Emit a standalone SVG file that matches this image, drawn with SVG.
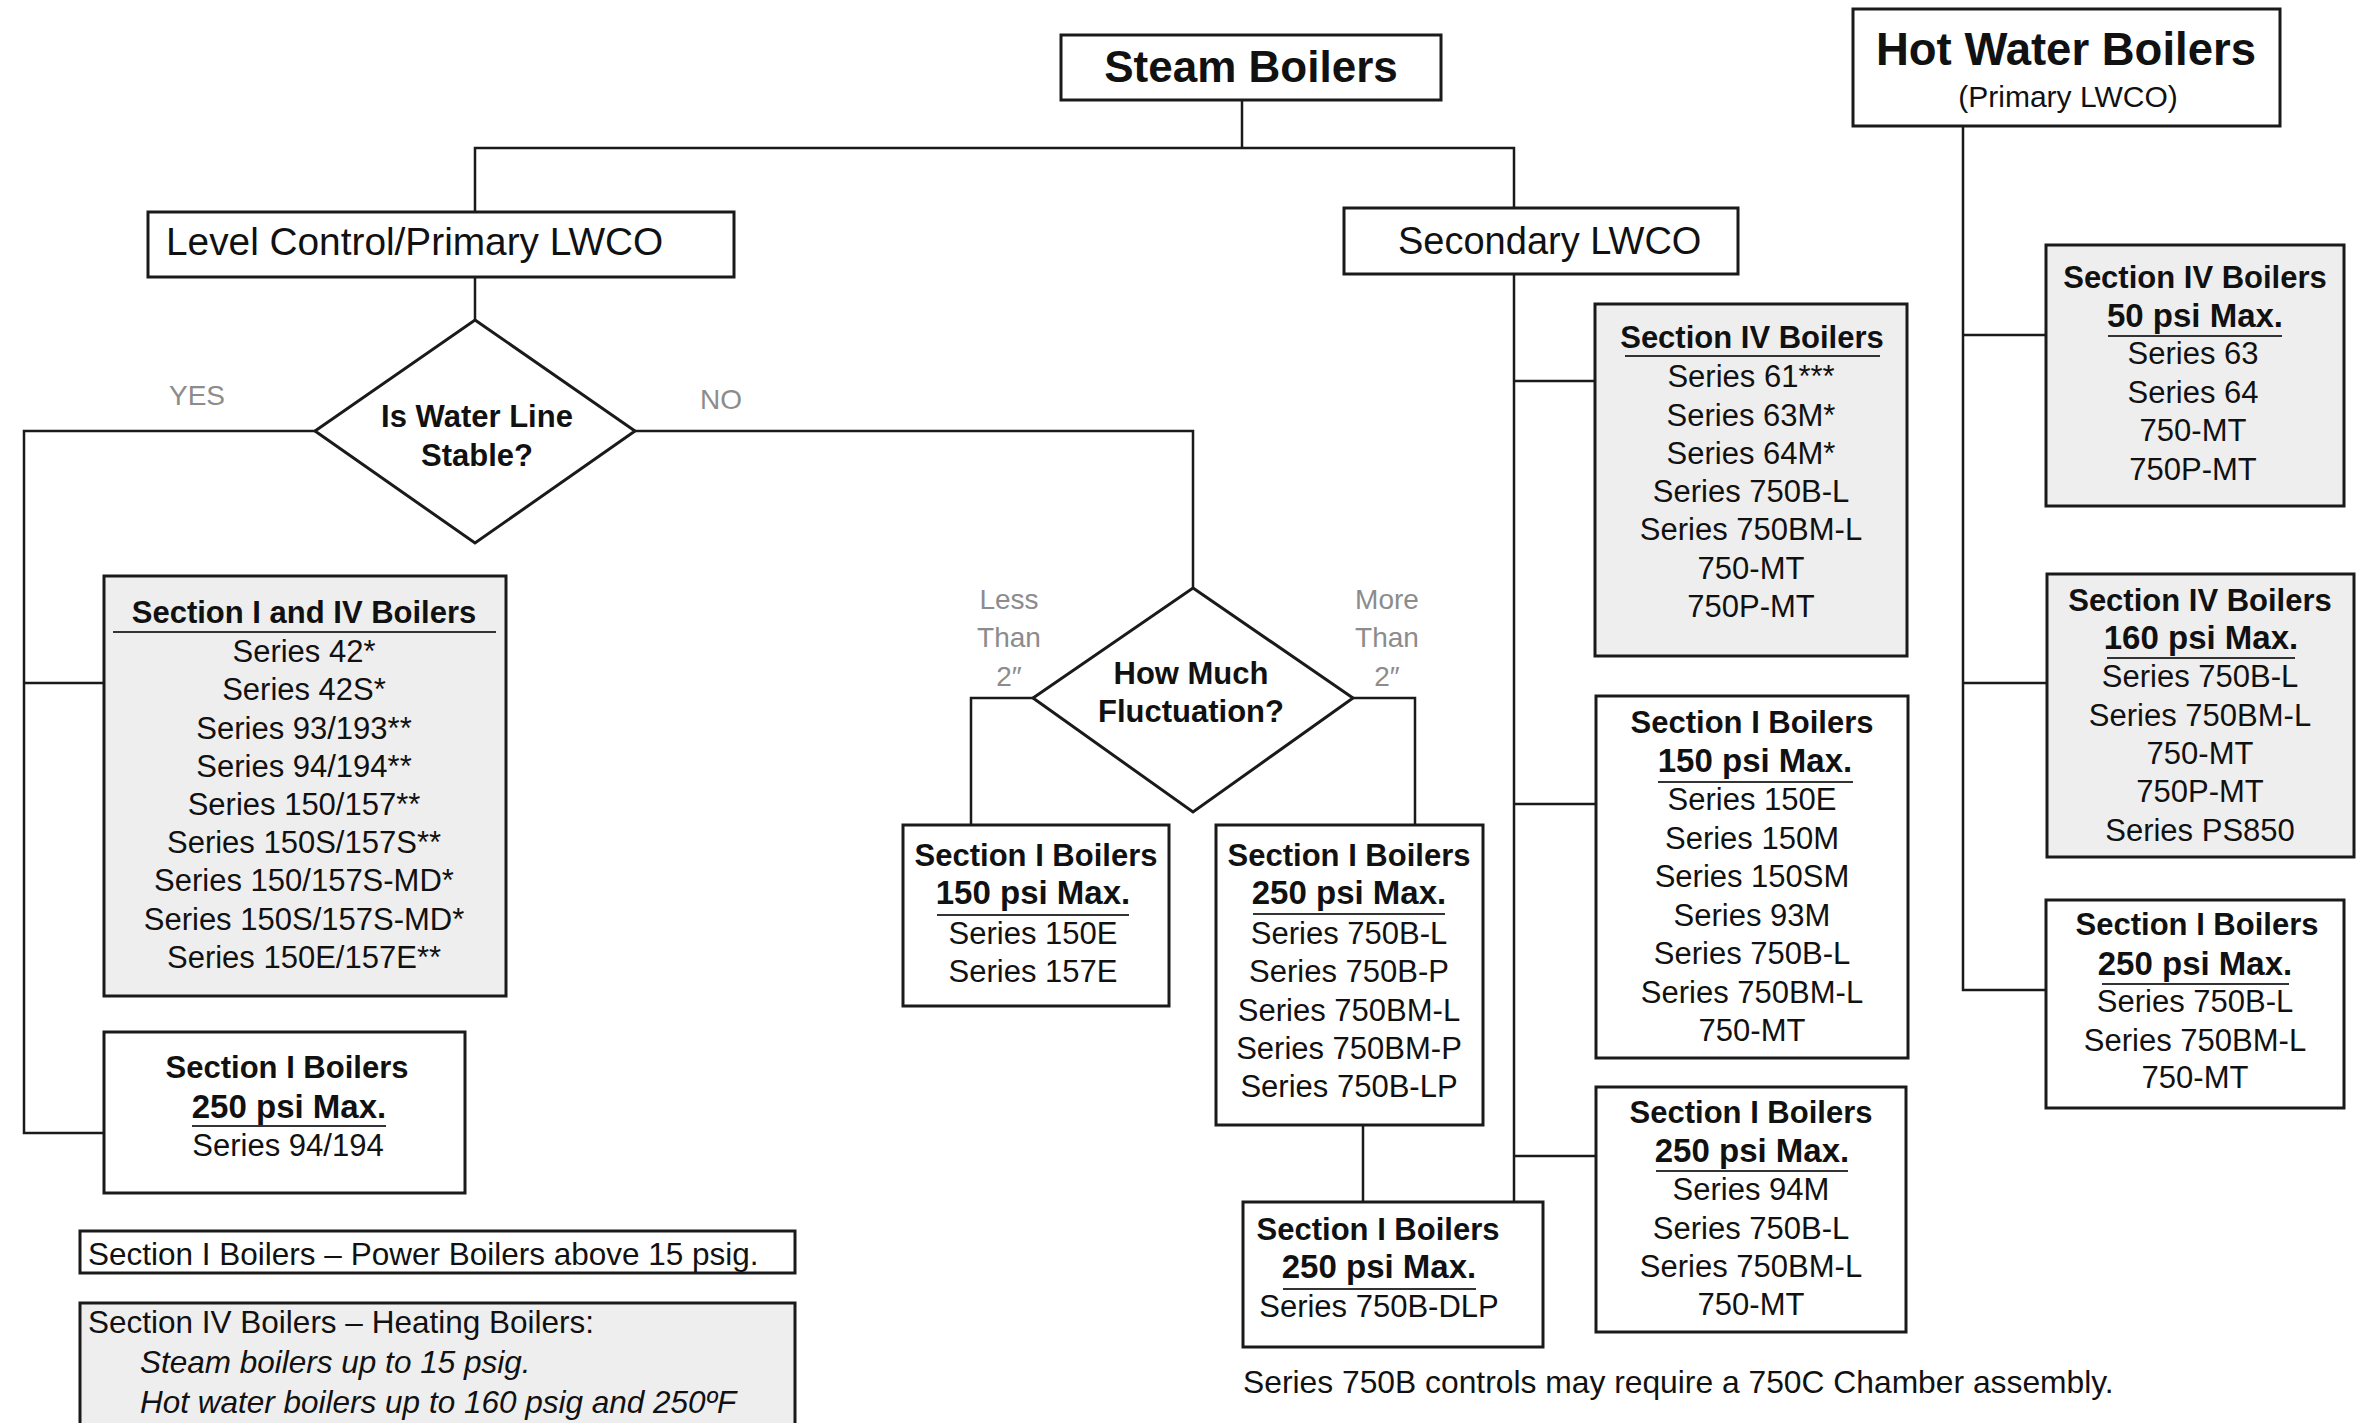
<svg xmlns="http://www.w3.org/2000/svg" width="2374" height="1423" viewBox="0 0 2374 1423">
<style>
.box{fill:#ffffff;stroke:#1a1a1a;stroke-width:3}
.gbox{fill:#eeeeee;stroke:#1a1a1a;stroke-width:3}
.conn{fill:none;stroke:#1a1a1a;stroke-width:2.5}
.ul{stroke:#333333;stroke-width:2}
text{font-family:"Liberation Sans",Arial,sans-serif;fill:#111111}
.t{font-size:31px;text-anchor:middle}
.b{font-weight:bold}
.p{font-size:33px;font-weight:bold;text-anchor:middle}
.lbl{font-size:28px;fill:#8c8c8c;text-anchor:middle}
.big{font-size:44px;font-weight:bold;text-anchor:middle}
.hd{font-size:38px}
.note{font-size:31.5px}
.it{font-style:italic}
</style>
<rect x="0" y="0" width="2374" height="1423" fill="#ffffff"/>
<g id="connectors">
<path class="conn" d="M1242,100 V148"/>
<path class="conn" d="M475,212 V148 H1514 V208"/>
<path class="conn" d="M475,277 V320"/>
<path class="conn" d="M315,431 H24 V1133 H104"/>
<path class="conn" d="M24,683 H104"/>
<path class="conn" d="M635,431 H1193 V588"/>
<path class="conn" d="M1033,698 H971 V825"/>
<path class="conn" d="M1353,698 H1415 V825"/>
<path class="conn" d="M1363,1125 V1202"/>
<path class="conn" d="M1514,274 V1202"/>
<path class="conn" d="M1514,381 H1595"/>
<path class="conn" d="M1514,804 H1596"/>
<path class="conn" d="M1514,1156 H1596"/>
<path class="conn" d="M1963,126 V990 H2046"/>
<path class="conn" d="M1963,335 H2046"/>
<path class="conn" d="M1963,683 H2047"/>
<text class="lbl" x="197" y="405">YES</text>
<text class="lbl" x="721" y="409">NO</text>
<text class="lbl" x="1009" y="609">Less</text>
<text class="lbl" x="1009" y="647">Than</text>
<text class="lbl" x="1009" y="686">2″</text>
<text class="lbl" x="1387" y="609">More</text>
<text class="lbl" x="1387" y="647">Than</text>
<text class="lbl" x="1387" y="686">2″</text>
</g>
<g id="steam">
<rect class="box" x="1061" y="35" width="380" height="65"/>
<text class="big" x="1251" y="82">Steam Boilers</text>
</g>
<g id="hotwater">
<rect class="box" x="1853" y="9" width="427" height="117"/>
<text class="big" x="2066" y="65" style="font-size:45.5px">Hot Water Boilers</text>
<text class="t" x="2068" y="107" style="font-size:30px">(Primary LWCO)</text>
</g>
<g id="levelcontrol">
<rect class="box" x="148" y="212" width="586" height="65"/>
<text class="hd" x="166" y="255" style="font-size:38.8px">Level Control/Primary LWCO</text>
</g>
<g id="secondary">
<rect class="box" x="1344" y="208" width="394" height="66"/>
<text class="hd" x="1398" y="254">Secondary LWCO</text>
</g>
<g id="stable">
<polygon class="box" points="475,320 635,431 475,543 315,431"/>
<text class="t b" x="477" y="427">Is Water Line</text>
<text class="t b" x="477" y="466">Stable?</text>
</g>
<g id="fluct">
<polygon class="box" points="1193,588 1353,698 1193,812 1033,698"/>
<text class="t b" x="1191" y="684">How Much</text>
<text class="t b" x="1191" y="722">Fluctuation?</text>
</g>
<g id="sec1and4">
<rect class="gbox" x="104" y="576" width="402" height="420"/>
<text class="t b" x="304" y="623">Section I and IV Boilers</text>
<line class="ul" x1="113" y1="632" x2="496" y2="632"/>
<text class="t" x="304" y="662">Series 42*</text>
<text class="t" x="304" y="700">Series 42S*</text>
<text class="t" x="304" y="739">Series 93/193**</text>
<text class="t" x="304" y="777">Series 94/194**</text>
<text class="t" x="304" y="815">Series 150/157**</text>
<text class="t" x="304" y="853">Series 150S/157S**</text>
<text class="t" x="304" y="891">Series 150/157S-MD*</text>
<text class="t" x="304" y="930">Series 150S/157S-MD*</text>
<text class="t" x="304" y="968">Series 150E/157E**</text>
</g>
<g id="left250">
<rect class="box" x="104" y="1032" width="361" height="161"/>
<text class="t b" x="287" y="1078">Section I Boilers</text>
<text class="p" x="289" y="1118">250 psi Max.</text>
<line class="ul" x1="192" y1="1126" x2="386" y2="1126"/>
<text class="t" x="288" y="1156">Series 94/194</text>
</g>
<g id="mid150">
<rect class="box" x="903" y="825" width="266" height="181"/>
<text class="t b" x="1036" y="866">Section I Boilers</text>
<text class="p" x="1033" y="904">150 psi Max.</text>
<line class="ul" x1="937" y1="915" x2="1129" y2="915"/>
<text class="t" x="1033" y="944">Series 150E</text>
<text class="t" x="1033" y="982">Series 157E</text>
</g>
<g id="mid250">
<rect class="box" x="1216" y="825" width="267" height="300"/>
<text class="t b" x="1349" y="866">Section I Boilers</text>
<text class="p" x="1349" y="904">250 psi Max.</text>
<line class="ul" x1="1253" y1="914" x2="1445" y2="914"/>
<text class="t" x="1349" y="944">Series 750B-L</text>
<text class="t" x="1349" y="982">Series 750B-P</text>
<text class="t" x="1349" y="1021">Series 750BM-L</text>
<text class="t" x="1349" y="1059">Series 750BM-P</text>
<text class="t" x="1349" y="1097">Series 750B-LP</text>
</g>
<g id="dlp">
<rect class="box" x="1243" y="1202" width="300" height="145"/>
<text class="t b" x="1378" y="1240">Section I Boilers</text>
<text class="p" x="1379" y="1278">250 psi Max.</text>
<line class="ul" x1="1283" y1="1289" x2="1476" y2="1289"/>
<text class="t" x="1379" y="1317">Series 750B-DLP</text>
</g>
<g id="sec4">
<rect class="gbox" x="1595" y="304" width="312" height="352"/>
<text class="t b" x="1752" y="348">Section IV Boilers</text>
<line class="ul" x1="1625" y1="356" x2="1880" y2="356"/>
<text class="t" x="1751" y="387">Series 61***</text>
<text class="t" x="1751" y="426">Series 63M*</text>
<text class="t" x="1751" y="464">Series 64M*</text>
<text class="t" x="1751" y="502">Series 750B-L</text>
<text class="t" x="1751" y="540">Series 750BM-L</text>
<text class="t" x="1751" y="579">750-MT</text>
<text class="t" x="1751" y="617">750P-MT</text>
</g>
<g id="sec150">
<rect class="box" x="1596" y="696" width="312" height="362"/>
<text class="t b" x="1752" y="733">Section I Boilers</text>
<text class="p" x="1755" y="772">150 psi Max.</text>
<line class="ul" x1="1658" y1="782" x2="1853" y2="782"/>
<text class="t" x="1752" y="810">Series 150E</text>
<text class="t" x="1752" y="849">Series 150M</text>
<text class="t" x="1752" y="887">Series 150SM</text>
<text class="t" x="1752" y="926">Series 93M</text>
<text class="t" x="1752" y="964">Series 750B-L</text>
<text class="t" x="1752" y="1003">Series 750BM-L</text>
<text class="t" x="1752" y="1041">750-MT</text>
</g>
<g id="sec250">
<rect class="box" x="1596" y="1087" width="310" height="245"/>
<text class="t b" x="1751" y="1123">Section I Boilers</text>
<text class="p" x="1752" y="1162">250 psi Max.</text>
<line class="ul" x1="1656" y1="1171" x2="1848" y2="1171"/>
<text class="t" x="1751" y="1200">Series 94M</text>
<text class="t" x="1751" y="1239">Series 750B-L</text>
<text class="t" x="1751" y="1277">Series 750BM-L</text>
<text class="t" x="1751" y="1315">750-MT</text>
</g>
<g id="hw50">
<rect class="gbox" x="2046" y="245" width="298" height="261"/>
<text class="t b" x="2195" y="288">Section IV Boilers</text>
<text class="p" x="2195" y="327">50 psi Max.</text>
<line class="ul" x1="2108" y1="336" x2="2282" y2="336"/>
<text class="t" x="2193" y="364">Series 63</text>
<text class="t" x="2193" y="403">Series 64</text>
<text class="t" x="2193" y="441">750-MT</text>
<text class="t" x="2193" y="480">750P-MT</text>
</g>
<g id="hw160">
<rect class="gbox" x="2047" y="574" width="307" height="283"/>
<text class="t b" x="2200" y="611">Section IV Boilers</text>
<text class="p" x="2201" y="649">160 psi Max.</text>
<line class="ul" x1="2107" y1="658" x2="2295" y2="658"/>
<text class="t" x="2200" y="687">Series 750B-L</text>
<text class="t" x="2200" y="726">Series 750BM-L</text>
<text class="t" x="2200" y="764">750-MT</text>
<text class="t" x="2200" y="802">750P-MT</text>
<text class="t" x="2200" y="841">Series PS850</text>
</g>
<g id="hw250">
<rect class="box" x="2046" y="900" width="298" height="208"/>
<text class="t b" x="2197" y="935">Section I Boilers</text>
<text class="p" x="2195" y="975">250 psi Max.</text>
<line class="ul" x1="2102" y1="984" x2="2289" y2="984"/>
<text class="t" x="2195" y="1012">Series 750B-L</text>
<text class="t" x="2195" y="1051">Series 750BM-L</text>
<text class="t" x="2195" y="1088">750-MT</text>
</g>
<g id="legend1">
<rect class="box" x="80" y="1231" width="715" height="42"/>
<text class="note" x="88" y="1265">Section I Boilers – Power Boilers above 15 psig.</text>
</g>
<g id="legend2">
<rect class="gbox" x="80" y="1303" width="715" height="140"/>
<text class="note" x="88" y="1333">Section IV Boilers – Heating Boilers:</text>
<text class="note it" x="140" y="1373">Steam boilers up to 15 psig.</text>
<text class="note it" x="140" y="1413">Hot water boilers up to 160 psig and 250ºF</text>
</g>
<g id="caption">
<text class="note" x="1243" y="1393" style="font-size:31.8px">Series 750B controls may require a 750C Chamber assembly.</text>
</g>
</svg>
